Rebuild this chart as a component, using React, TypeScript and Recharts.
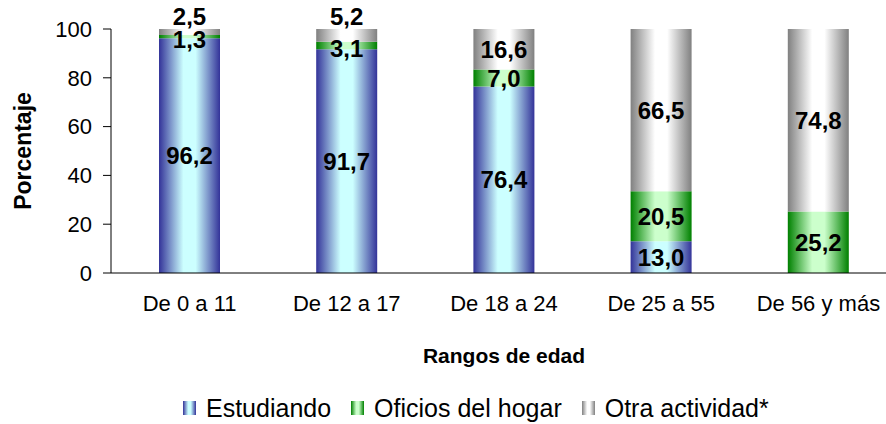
import React from 'react';
import { BarChart, Bar, XAxis, YAxis, Legend, LabelList, Label } from 'recharts';

const categories = ['De 0 a 11', 'De 12 a 17', 'De 18 a 24', 'De 25 a 55', 'De 56 y más'];
const estudiando = [96.2, 91.7, 76.4, 13.0, 0];
const oficios = [1.3, 3.1, 7.0, 20.5, 25.2];
const otra = [2.5, 5.2, 16.6, 66.5, 74.8];
const yTicks = [0, 20, 40, 60, 80, 100];

const data = categories.map((c, i) => ({
  cat: c,
  estudiando: estudiando[i],
  oficios: oficios[i],
  otra: otra[i],
}));

const FONT = '"Liberation Sans", Arial, sans-serif';

const series = [
  { key: 'estudiando', name: 'Estudiando', grad: 'gBlue', edge: '#333399', mid: '#CCFFFF' },
  { key: 'oficios', name: 'Oficios del hogar', grad: 'gGreen', edge: '#008000', mid: '#CCFFCC' },
  { key: 'otra', name: 'Otra actividad*', grad: 'gGray', edge: '#808080', mid: '#FFFFFF' },
];

const fmt = (v: number) => v.toFixed(1).replace('.', ',');

const Grad = ({ id, edge, mid }: { id: string; edge: string; mid: string }) => (
  <linearGradient id={id} x1="0" y1="0" x2="1" y2="0">
    <stop offset="0" stopColor={edge} />
    <stop offset="0.4" stopColor={mid} />
    <stop offset="0.6" stopColor={mid} />
    <stop offset="1" stopColor={edge} />
  </linearGradient>
);

const makeLabel = (kind: string) => (props: any) => {
  const { x, y, width, height, value } = props;
  if (!value) return null;
  const top = Math.min(y, y + height);
  const h = Math.abs(height);
  let cy = top + h / 2;
  if (kind === 'otra' && value < 10) cy = top - 13;
  if (kind === 'oficios' && value < 5) cy = top + h / 2 + 3;
  return (
    <text
      x={x + width / 2}
      y={cy}
      textAnchor="middle"
      dominantBaseline="central"
      fontFamily={FONT}
      fontWeight="bold"
      fontSize={24}
      fill="#000"
    >
      {fmt(value)}
    </text>
  );
};

const renderLegend = () => (
  <div
    style={{
      display: 'flex',
      justifyContent: 'flex-start',
      alignItems: 'center',
      fontFamily: FONT,
      fontSize: 25,
      height: 30,
      paddingLeft: 183,
      color: '#000',
    }}
  >
    {series.map((s) => (
      <div key={s.key} style={{ display: 'flex', alignItems: 'center', marginRight: 20 }}>
        <svg width={13} height={14} style={{ display: 'block' }}>
          <defs>
            <Grad id={'l' + s.grad} edge={s.edge} mid={s.mid} />
          </defs>
          <rect x={0} y={0} width={13} height={14} fill={`url(#l${s.grad})`} />
        </svg>
        <span style={{ marginLeft: 10, lineHeight: '30px' }}>{s.name}</span>
      </div>
    ))}
  </div>
);

export default function App() {
  return (
    <div style={{ position: 'absolute', left: 0, top: 0, width: 886, height: 424, overflow: 'hidden', background: '#fff' }}>
      <BarChart
        width={900}
        height={424}
        data={data}
        margin={{ top: 29, right: 3, left: 51, bottom: 31 }}
      >
        <defs>
          {series.map((s) => (
            <Grad key={s.grad} id={s.grad} edge={s.edge} mid={s.mid} />
          ))}
        </defs>
        <XAxis
          dataKey="cat"
          height={90}
          axisLine={{ stroke: '#000' }}
          tickLine={false}
          tickSize={6}
          tickMargin={16}
          tick={{ fill: '#000', fontSize: 22, fontFamily: FONT }}
          interval={0}
        >
          <Label
            content={(p: any) => {
              const vb = p.viewBox;
              return (
                <text
                  x={vb.x + vb.width / 2}
                  y={355}
                  textAnchor="middle"
                  dominantBaseline="central"
                  fontFamily={FONT}
                  fontWeight="bold"
                  fontSize={21}
                  fill="#000"
                >
                  Rangos de edad
                </text>
              );
            }}
          />
        </XAxis>
        <YAxis
          width={60}
          domain={[0, 100]}
          ticks={yTicks}
          axisLine={{ stroke: '#000' }}
          tickLine={{ stroke: '#000' }}
          tickSize={8}
          tickMargin={11}
          tick={{ fill: '#000', fontSize: 22, fontFamily: FONT }}
        >
          <Label
            content={(p: any) => {
              const vb = p.viewBox;
              const cx = vb.x - 28;
              const cy = vb.y + vb.height / 2;
              return (
                <text
                  x={cx}
                  y={cy}
                  transform={`rotate(-90, ${cx}, ${cy})`}
                  textAnchor="middle"
                  dominantBaseline="central"
                  fontFamily={FONT}
                  fontWeight="bold"
                  fontSize={23}
                  fill="#000"
                >
                  Porcentaje
                </text>
              );
            }}
          />
        </YAxis>
        <Legend
          verticalAlign="bottom"
          content={renderLegend}
          wrapperStyle={{ top: 393, bottom: 'auto', left: 0, width: 886, height: 30 }}
        />
        {series.map((s) => (
          <Bar
            key={s.key}
            dataKey={s.key}
            name={s.name}
            stackId="a"
            barSize={61}
            fill={`url(#${s.grad})`}
            isAnimationActive={false}
          >
            <LabelList dataKey={s.key} content={makeLabel(s.key)} />
          </Bar>
        ))}
      </BarChart>
    </div>
  );
}
